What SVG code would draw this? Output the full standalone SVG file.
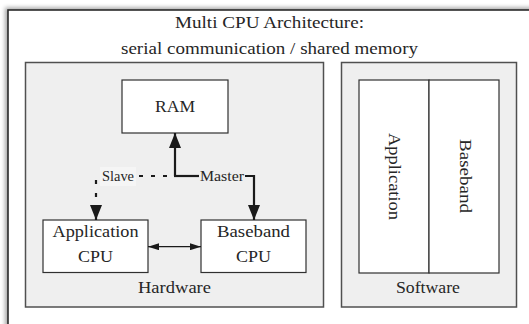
<svg xmlns="http://www.w3.org/2000/svg" width="529" height="324" viewBox="0 0 529 324" font-family="Liberation Serif, DejaVu Serif, serif">
<style>
text{font-size:16.5px;fill:#262626;text-anchor:middle}
.lbl{font-size:14.5px}
.panel{fill:#efefef;stroke:#505050;stroke-width:1.5}
.box{fill:#ffffff;stroke:#303030;stroke-width:1.2}
.thick{fill:none;stroke:#1a1a1a;stroke-width:2.2}
.dash{fill:none;stroke:#1a1a1a;stroke-width:2.2}
.thin{fill:none;stroke:#1a1a1a;stroke-width:1.3}
</style>
<defs>
<filter id="sh" x="-10%" y="-10%" width="120%" height="120%">
<feGaussianBlur stdDeviation="2"/>
</filter>
<marker id="big" viewBox="0 0 15 12" refX="15" refY="6" markerWidth="15" markerHeight="12" markerUnits="userSpaceOnUse" orient="auto">
<path d="M0,0 L15,6 L0,12 Z" fill="#1a1a1a"/>
</marker>
<marker id="small" viewBox="0 0 11 7" refX="11" refY="3.5" markerWidth="11" markerHeight="7" markerUnits="userSpaceOnUse" orient="auto-start-reverse">
<path d="M0,0 L11,3.5 L0,7 Z" fill="#1a1a1a"/>
</marker>
</defs>

<g id="frame">
<rect x="5" y="7.5" width="560" height="360" fill="#000" opacity="0.35" filter="url(#sh)"/>
<rect x="8" y="10" width="560" height="360" fill="#ffffff" stroke="#2a2a2a" stroke-width="1.6"/>
<text x="269.5" y="28" textLength="189" lengthAdjust="spacingAndGlyphs">Multi CPU Architecture:</text>
<text x="269.5" y="53.5" textLength="297" lengthAdjust="spacingAndGlyphs">serial communication / shared memory</text>
</g>

<g id="hardware">
<rect class="panel" x="25.5" y="62.5" width="298" height="244.5"/>
<text x="174.5" y="292.5" textLength="73" lengthAdjust="spacingAndGlyphs">Hardware</text>
</g>

<g id="software">
<rect class="panel" x="341.5" y="62.5" width="175" height="244.5"/>
<text x="428" y="292.5" textLength="64" lengthAdjust="spacingAndGlyphs">Software</text>
</g>

<g id="ram">
<rect class="box" x="122" y="80" width="106" height="53"/>
<text x="175" y="112" textLength="40" lengthAdjust="spacingAndGlyphs">RAM</text>
</g>

<g id="app-cpu">
<rect class="box" x="43" y="220" width="105" height="52.5"/>
<text x="95.5" y="237" textLength="86" lengthAdjust="spacingAndGlyphs">Application</text>
<text x="95.5" y="262" textLength="35" lengthAdjust="spacingAndGlyphs">CPU</text>
</g>

<g id="baseband-cpu">
<rect class="box" x="201" y="220" width="105" height="52.5"/>
<text x="253.5" y="237" textLength="73" lengthAdjust="spacingAndGlyphs">Baseband</text>
<text x="253.5" y="262" textLength="35" lengthAdjust="spacingAndGlyphs">CPU</text>
</g>

<g id="sw-application">
<rect class="box" x="359" y="80" width="70" height="193"/>
<text transform="translate(394,176.5) rotate(90)" x="0" y="5" textLength="87" lengthAdjust="spacingAndGlyphs">Application</text>
</g>

<g id="sw-baseband">
<rect class="box" x="429" y="80" width="70" height="193"/>
<text transform="translate(465,176) rotate(90)" x="0" y="5" textLength="74" lengthAdjust="spacingAndGlyphs">Baseband</text>
</g>

<g id="connectors">
<path class="thick" d="M175,176 V133" marker-end="url(#big)"/>
<path class="thick" d="M174,176 H199"/>
<path class="thick" d="M245,176 H254 V220" marker-end="url(#big)"/>
<text class="lbl" x="222" y="180.5" textLength="44" lengthAdjust="spacingAndGlyphs">Master</text>
<path class="dash" d="M175,176 H137" stroke-dasharray="4,8" stroke-dashoffset="4"/>
<path class="dash" d="M96,176 V206" stroke-dasharray="4,9" stroke-dashoffset="9"/>
<path class="dash" d="M96,205 V220" marker-end="url(#big)"/>
<rect x="100" y="167" width="36" height="19" fill="#f5f5f5"/>
<text class="lbl" x="118" y="180.5" textLength="32" lengthAdjust="spacingAndGlyphs">Slave</text>
<path class="thin" d="M148,246.7 H201" marker-start="url(#small)" marker-end="url(#small)"/>
</g>
</svg>
